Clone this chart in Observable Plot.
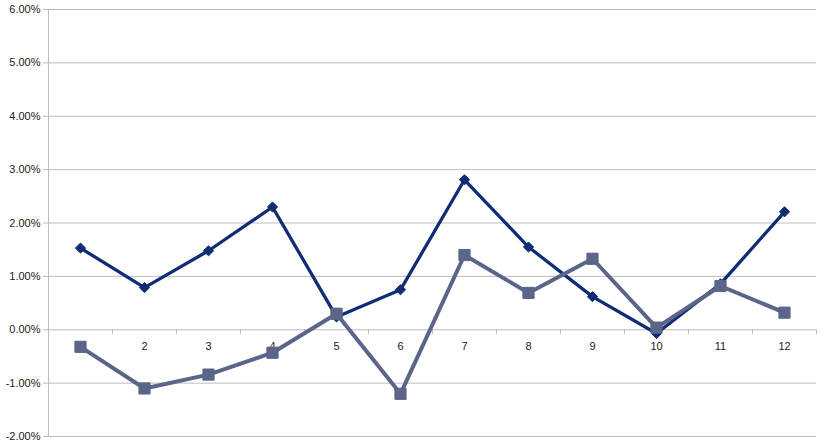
<!DOCTYPE html>
<html>
<head>
<meta charset="utf-8">
<script src="https://cdn.jsdelivr.net/npm/d3@7"></script>
<script src="https://cdn.jsdelivr.net/npm/@observablehq/plot@0.6"></script>
<style>
  body { margin: 0; background: white; }
</style>
</head>
<body>
<div id="chart"></div>
<script>
const months = [1, 2, 3, 4, 5, 6, 7, 8, 9, 10, 11, 12];
const seriesA = [0.0153, 0.0079, 0.0148, 0.0230, 0.0024, 0.0075, 0.0281, 0.0155, 0.0062, -0.0007, 0.0086, 0.0221];
const seriesB = [-0.0032, -0.0110, -0.0084, -0.0043, 0.0030, -0.0120, 0.0140, 0.0069, 0.0133, 0.0004, 0.0082, 0.0032];
const yTicks = [-0.02, -0.01, 0, 0.01, 0.02, 0.03, 0.04, 0.05, 0.06];

const dataA = months.map((m, i) => ({m, v: seriesA[i]}));
const dataB = months.map((m, i) => ({m, v: seriesB[i]}));
// category boundaries for the little ticks under the zero line
const bounds = d3.range(0.5, 13, 1);

const dark = "#0f2d74";
const grey = "#5a6589";
const gridColor = "#bcbcbc";

let chart = Plot.plot({
  width: 826,
  height: 446,
  marginLeft: 48,
  marginRight: 10,
  marginTop: 9,
  marginBottom: 10,
  x: {domain: [0.5, 12.5], axis: null},
  y: {domain: [-0.02, 0.06]},
  style: {
    background: "white",
    fontFamily: "'Liberation Sans', Arial, sans-serif",
    fontSize: "11px",
    color: "#1a1a1a",
  },
  marks: [
    Plot.ruleY(yTicks, {stroke: gridColor, strokeWidth: 1}),
    Plot.axisY({
      ticks: yTicks,
      tickSize: 5,
      tickPadding: 3,
      stroke: gridColor,
      strokeOpacity: 1,
      label: null,
      tickFormat: d => (d * 100).toFixed(2) + "%",
    }),
    Plot.ruleX([0.5], {stroke: gridColor, strokeWidth: 1}),
    Plot.ruleX(bounds, {x: d => d, y1: 0, y2: -0.0009, stroke: gridColor}),
    Plot.text(months, {x: d => d, y: 0, dy: 17, text: d => String(d), fill: "#1a1a1a"}),
    // dark series first, grey one drawn over it like in the original
    Plot.line(dataA, {x: "m", y: "v", stroke: dark, strokeWidth: 3.3, strokeLinejoin: "miter"}),
    Plot.dot(dataA, {x: "m", y: "v", symbol: "diamond2", r: 4.6, fill: dark, stroke: dark, strokeWidth: 1}),
    Plot.line(dataB, {x: "m", y: "v", stroke: grey, strokeWidth: 4, strokeLinejoin: "miter"}),
    Plot.dot(dataB, {x: "m", y: "v", symbol: "square", r: 6.3, fill: grey, stroke: grey, strokeWidth: 1}),
  ],
});
d3.select("#chart").append(() => chart);
</script>
</body>
</html>
